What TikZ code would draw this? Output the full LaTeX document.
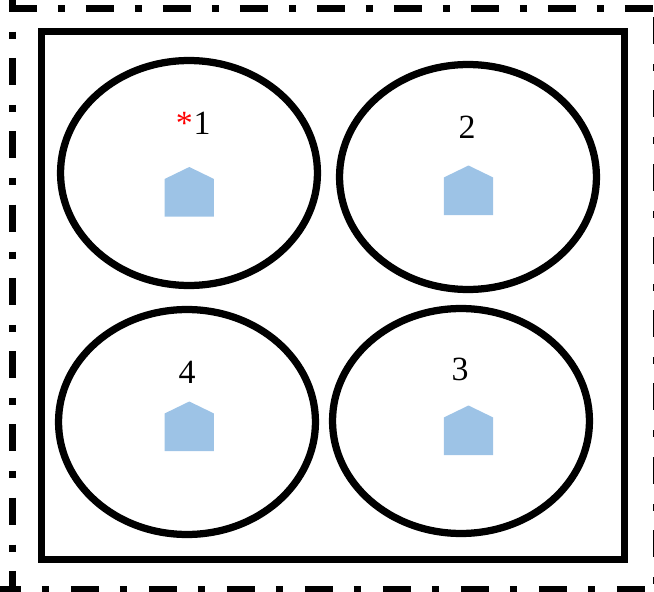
\documentclass[tikz,border=0pt]{standalone}
\usepackage{fontspec}
\setmainfont{Liberation Serif}
\usetikzlibrary{shapes.geometric}
\definecolor{houseblue}{HTML}{9DC3E6}
\tikzset{
  region/.style={draw, ellipse, line width=0.145cm, minimum width=5.14cm, minimum height=4.5cm, inner sep=0pt},
  boundary/.style={draw, line width=0.14cm, minimum width=11.68cm, minimum height=10.57cm, inner sep=0pt},
  siteline/.style={line width=0.14cm},
  number/.style={font=\fontsize{19.3pt}{22pt}\selectfont, inner sep=0pt}
}
\begin{document}
\begin{tikzpicture}[x=0.02cm, y=-0.02cm]
  \useasboundingbox (0,0) rectangle (654,592);
  % outer dash-dot border, one side at a time
  \draw[siteline, dash pattern=on 0.56cm off 0.42cm on 0.14cm off 0.42cm] (9,8.5) -- (660,8.5);
  \draw[siteline, dash pattern=on 0.54cm off 0.40cm on 0.14cm off 0.386cm] (12.5,-15.3) -- (12.5,592);
  \draw[siteline, dash pattern=on 0.54cm off 0.40cm on 0.14cm off 0.386cm] (656,17) -- (656,592);
  \draw[siteline, dash pattern=on 0.56cm off 0.42cm on 0.14cm off 0.44cm] (-7,589.5) -- (660,589.5);
  \node[boundary] (field) at (333,295.2) {};
  % regions
  \foreach \name/\cx/\cy in {r1/189/173, r2/468/177, r3/461/421, r4/187/422} {
    \node[region] (\name) at (\cx,\cy) {};
  }
  % houses
  \foreach \hx/\hy in {189.3/167, 468.5/165.5, 468.5/405.5, 189.3/401.5} {
    \fill[houseblue] (\hx,\hy) -- ++(24.7,12) -- ++(0,37.5) -- ++(-49.4,0) -- ++(0,-37.5) -- cycle;
  }
  % numbers
  \node[number] (n1) at (202,123) {1};
  \node[number, text=red, anchor=base east] (mark) at (n1.base west) {*};
  \node[number] (n2) at (467,127) {2};
  \node[number] (n3) at (460,369) {3};
  \node[number] (n4) at (187,372) {4};
\end{tikzpicture}
\end{document}
